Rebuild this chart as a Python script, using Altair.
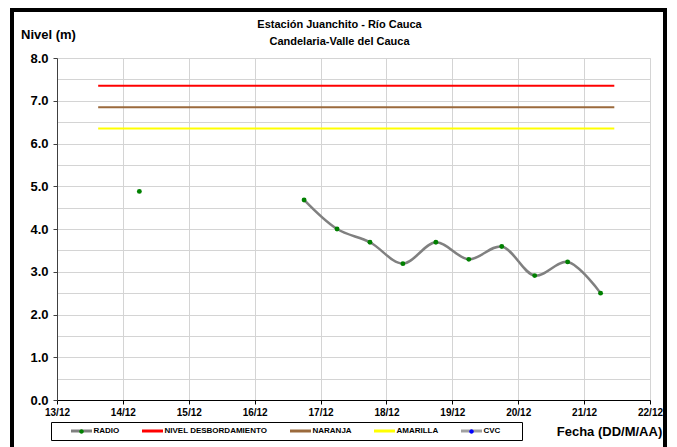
import altair as alt
import pandas as pd

# ---- data ----
radio_fecha = [
    "2011-12-14T06:00:00", "2011-12-14T18:00:00", "2011-12-15T06:00:00",
    "2011-12-15T18:00:00", "2011-12-16T06:00:00", "2011-12-16T18:00:00",
    "2011-12-17T06:00:00", "2011-12-17T18:00:00", "2011-12-18T06:00:00",
    "2011-12-18T18:00:00", "2011-12-19T06:00:00", "2011-12-19T18:00:00",
    "2011-12-20T06:00:00", "2011-12-20T18:00:00", "2011-12-21T06:00:00",
]
radio_nivel = [4.88, None, None, None, None, 4.68, 4.00, 3.69, 3.19, 3.69,
               3.29, 3.59, 2.91, 3.23, 2.50]

umbral_nombre = ["NIVEL DESBORDAMIENTO", "NARANJA", "AMARILLA"]
umbral_nivel = [7.35, 6.85, 6.35]
umbral_inicio = "2011-12-13T15:00:00"
umbral_fin = "2011-12-21T11:00:00"

series = ["RADIO", "NIVEL DESBORDAMIENTO", "NARANJA", "AMARILLA", "CVC"]
series_colores = ["#808080", "#FF0000", "#9B6A3C", "#FFFF00", "#A0A0A0"]
punto_colores = ["#008000", "transparent", "transparent", "transparent", "#0000FF"]

dias = [13, 14, 15, 16, 17, 18, 19, 20, 21, 22]
y_ticks = [i * 0.5 for i in range(17)]

titulo = ["Estación Juanchito - Río Cauca", "Candelaria-Valle del Cauca"]

# ---- tables ----
radio_df = pd.DataFrame({"fecha": radio_fecha, "nivel": radio_nivel, "serie": "RADIO"})
umb_rows = []
for n, v in zip(umbral_nombre, umbral_nivel):
    umb_rows.append({"fecha": umbral_inicio, "nivel": v, "serie": n})
    umb_rows.append({"fecha": umbral_fin, "nivel": v, "serie": n})
umb_df = pd.DataFrame(umb_rows)

FONT = "Liberation Sans"

x_scale = alt.Scale(domain=[alt.DateTime(year=2011, month=12, date=13),
                            alt.DateTime(year=2011, month=12, date=22)])
x_enc = alt.X(
    "fecha:T", scale=x_scale,
    axis=alt.Axis(
        values=[alt.DateTime(year=2011, month=12, date=d) for d in dias],
        format="%d/%m", title="Fecha (DD/M/AA)",
        titleAngle=0, titleX=552, titleY=31, titleAlign="center", titleBaseline="middle",
        titleFont=FONT, titleFontSize=13, titleFontWeight="bold", titleColor="#000000",
        labelFont=FONT, labelFontSize=10, labelFontWeight="bold", labelColor="#000000",
        labelPadding=3, tickSize=4, tickColor="#000000", domainColor="#000000",
        gridColor="#D4D4D4", grid=True, labelAngle=0, labelFlush=False,
    ),
)
y_scale = alt.Scale(domain=[0, 8], nice=False)
y_enc = alt.Y(
    "nivel:Q", scale=y_scale,
    axis=alt.Axis(
        values=y_ticks,
        labelExpr="datum.value % 1 === 0 ? format(datum.value, '.1f') : ''",
        title="Nivel (m)", titleAngle=0, titleX=-9, titleY=-24,
        titleAlign="center", titleBaseline="middle",
        titleFont=FONT, titleFontSize=13, titleFontWeight="bold", titleColor="#000000",
        labelFont=FONT, labelFontSize=13, labelFontWeight="bold", labelColor="#000000",
        labelPadding=5, tickSize=4, labelFlush=False,
        tickColor={"condition": {"test": "datum.value % 1 !== 0", "value": "transparent"},
                   "value": "#404040"},
        domainColor="#404040", gridColor="#D4D4D4", grid=True,
    ),
)

PREF = "p:"
color_scale = alt.Scale(domain=series, range=series_colores)
fill_scale = alt.Scale(domain=[PREF + s for s in series], range=punto_colores)

PAD = "\u2800" * 3
LABEL_EXPR_LINE = f"datum.label == 'CVC' ? 'CVC{PAD}' : datum.label"
LABEL_EXPR_DOT = (f"substring(datum.label, 2) == 'CVC' ? 'CVC{PAD}' : "
                  "substring(datum.label, 2)")

legend_common = dict(
    orient="none", direction="horizontal", legendX=-6, legendY=364,
    labelFont=FONT, labelFontSize=8, labelFontWeight="bold",
    columnPadding=5, labelOffset=6, symbolOffset=21.5, padding=3, symbolSize=81,
    symbolStrokeWidth=3, title=None, columns=5,
)

line_legend = alt.Legend(
    symbolType="M-2.33,0L2.33,0", labelColor="#000000", symbolFillColor="transparent",
    fillColor="#FFFFFF", strokeColor="#000000", zindex=0, labelExpr=LABEL_EXPR_LINE,
    **legend_common,
)
dot_legend = alt.Legend(
    symbolType="M0.5,0A0.5,0.5 0 1,1 -0.5,0A0.5,0.5 0 1,1 0.5,0Z",
    symbolStrokeColor="transparent", labelColor="transparent", zindex=2,
    labelExpr=LABEL_EXPR_DOT, **legend_common,
)

umbrales = alt.Chart(umb_df).mark_line(strokeWidth=2).encode(
    x=x_enc, y=y_enc,
    color=alt.Color("serie:N", scale=color_scale, legend=line_legend),
    detail="serie:N",
)

radio_line = alt.Chart(radio_df).mark_line(strokeWidth=2.5, interpolate="catmull-rom").encode(
    x=x_enc, y=y_enc,
    color=alt.Color("serie:N", scale=color_scale, legend=line_legend),
)

radio_pts = alt.Chart(radio_df).transform_filter("datum.nivel != null").transform_calculate(
    serie_p=f"'{PREF}' + datum.serie"
).mark_circle(size=24, opacity=1).encode(
    x=x_enc, y=y_enc,
    fill=alt.Fill("serie_p:N", scale=fill_scale, legend=dot_legend),
)

marco = alt.Chart(alt.Data(values=[{}])).mark_rect(
    fill="transparent", stroke="#000000", strokeWidth=4
).encode(
    x=alt.value(-45), x2=alt.value(608), y=alt.value(-48), y2=alt.value(420),
)

chart = alt.layer(umbrales, radio_line, radio_pts, marco).properties(
    width=593, height=342,
    padding={"left": 49, "top": 50, "right": 19, "bottom": 47},
    autosize=alt.AutoSizeParams(type="none"),
    title=alt.Title(titulo, font=FONT, fontSize=11, fontWeight="bold", color="#000000",
                    anchor="middle", dx=-14, dy=45, offset=6, lineHeight=17),
).configure_view(stroke="#A0A0A0", strokeWidth=1.5).configure(background="#FFFFFF")

chart.save("out.html", embed_options={"renderer": "svg", "actions": False})
